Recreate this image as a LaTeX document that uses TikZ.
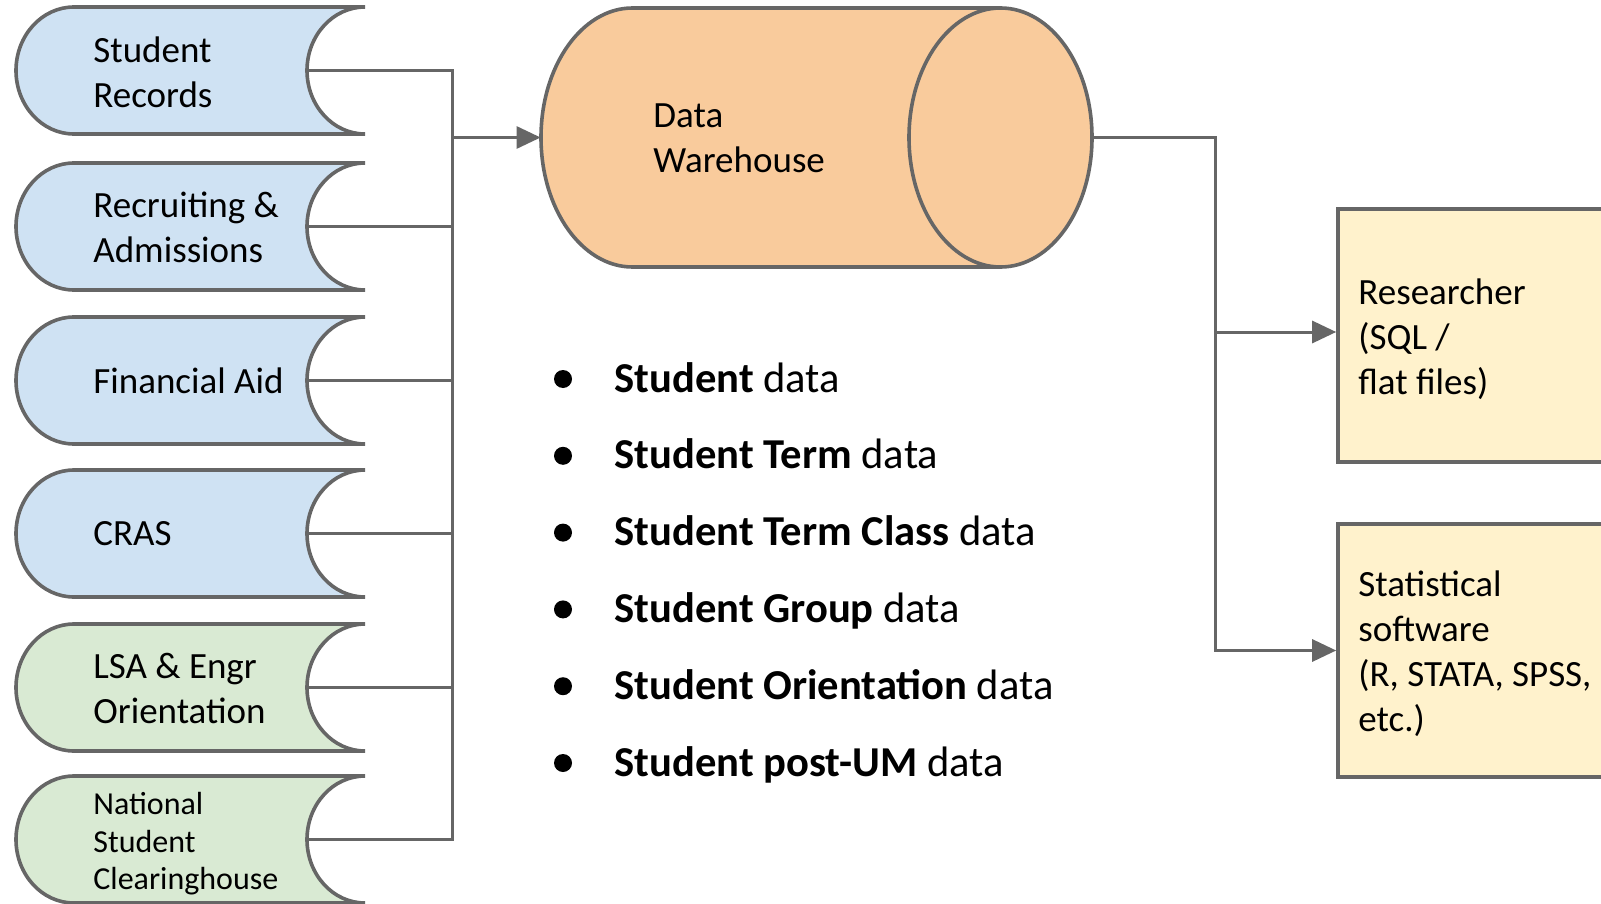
\documentclass[tikz,border=0pt]{standalone}
\usepackage{fontspec}
\setmainfont{Carlito}
\usetikzlibrary{arrows.meta}
\definecolor{edge}{HTML}{666666}
\definecolor{srcblue}{HTML}{CFE2F3}
\definecolor{srcgreen}{HTML}{D9EAD3}
\definecolor{dwfill}{HTML}{F9CB9C}
\definecolor{outfill}{HTML}{FFF2CC}
\newcommand\srcshape[3]{%
  \draw[shapeline, fill=#2] (74,#1) -- (365,#1)
    arc[start angle=270, end angle=90, x radius=58, y radius=63.5]
    -- (74,#1+127)
    arc[start angle=90, end angle=270, x radius=58, y radius=63.5] -- cycle;
  \coordinate (#3) at (307,#1+63.5);
}
\begin{document}
\begin{tikzpicture}[x=0.5pt,y=-0.5pt,
  shapeline/.style={draw=edge, line width=1.8pt},
  conn/.style={draw=edge, line width=1.5pt},
  arr/.style={conn, -{Triangle[length=12pt,width=11pt]}},
  lbl/.style={inner sep=0pt, anchor=west, align=left, font=\fontsize{18.5}{22.5}\selectfont},
  small/.style={lbl, font=\fontsize{16}{18.75}\selectfont},
  item/.style={inner sep=0pt, anchor=base west, font=\fontsize{21.3}{25}\selectfont},
  dot/.style={circle, fill=black, inner sep=0pt, minimum size=9pt},
  outbox/.style={shapeline, fill=outfill, inner sep=0pt, minimum width=160pt, minimum height=126.5pt}
]
\useasboundingbox (0,0) rectangle (1601,904);
\clip (0,0) rectangle (1601,904);

% sources
\srcshape{7}{srcblue}{s1}
\srcshape{163}{srcblue}{s2}
\srcshape{317}{srcblue}{s3}
\srcshape{470}{srcblue}{s4}
\srcshape{624}{srcgreen}{s5}
\srcshape{776}{srcgreen}{s6}

\node[lbl] (t1) at (93,72) {Student\\Records};
\node[lbl] (t2) at (93,227) {Recruiting \&\\Admissions};
\node[lbl] (t3) at (93,381) {Financial Aid};
\node[lbl] (t4) at (93,534) {CRAS};
\node[lbl] (t5) at (93,688) {LSA \& Engr\\Orientation};
\node[small] (t6) at (93,844) {National\\Student\\Clearinghouse};

% data warehouse cylinder
\draw[shapeline, fill=dwfill] (1000.5,8) -- (632.5,8)
  arc[start angle=270, end angle=90, x radius=91.5, y radius=129.5]
  -- (1000.5,267) -- cycle;
\draw[shapeline, fill=dwfill] (1000.5,137.5) ellipse [x radius=91.5, y radius=129.5];
\node[inner sep=0pt, minimum width=275.5pt, minimum height=129.5pt] (dw) at (816.5,137.5) {};
\node[lbl] (dwtxt) at (653,138) {Data\\Warehouse};

% outputs
\node[outbox] (res) at (1498,335.5) {};
\node[outbox] (stat) at (1498,650.5) {};
\node[lbl] (restxt) at (1358,339) {Researcher\\(SQL /\\flat files)};
\node[lbl] (stattxt) at (1358,654) {Statistical\\software\\(R, STATA, SPSS,\\etc.)};

% bus
\coordinate (bustop) at (452,70.5);
\coordinate (busbot) at (452,839.5);
\draw[conn] (s1) -- (bustop) -- (busbot) -- (s6);
\draw[conn] (s2) -- (s2 -| bustop);
\draw[conn] (s3) -- (s3 -| bustop);
\draw[conn] (s4) -- (s4 -| bustop);
\draw[conn] (s5) -- (s5 -| bustop);
\draw[arr] (bustop |- dw.west) -- (dw.west);

% output connectors
\coordinate (outtop) at (1215,137.5);
\coordinate (outmid) at (1215,332);
\draw[arr] (dw.east) -- (outtop) -- (outtop |- stat.west) -- (stat.west);
\draw[arr] (outmid) -- (outmid -| res.west);

% bullet list
\node[dot] (b1) at (563,379) {};
\node[dot] (b2) at (563,455.8) {};
\node[dot] (b3) at (563,532.6) {};
\node[dot] (b4) at (563,609.4) {};
\node[dot] (b5) at (563,686.2) {};
\node[dot] (b6) at (563,763) {};
\node[item] (i1) at (614,392) {\textbf{Student} data};
\node[item] (i2) at (614,468.8) {\textbf{Student Term} data};
\node[item] (i3) at (614,545.6) {\textbf{Student Term Class} data};
\node[item] (i4) at (614,622.4) {\textbf{Student Group} data};
\node[item] (i5) at (614,699.2) {\textbf{Student Orientation} data};
\node[item] (i6) at (614,776) {\textbf{Student post-UM} data};
\end{tikzpicture}
\end{document}
